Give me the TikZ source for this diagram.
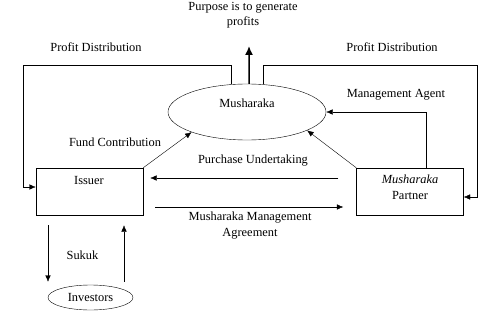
\documentclass[tikz,border=0pt]{standalone}
\usepackage{fontspec}
\setmainfont{Liberation Serif}
\usetikzlibrary{shapes.geometric, arrows.meta}
\begin{document}
\begin{tikzpicture}[x=10pt, y=10pt, >={Latex[length=6.5pt,width=5.5pt]},
  every node/.style={font=\fontsize{12.4}{15.5}\selectfont},
  party/.style={draw, minimum width=107pt, minimum height=47pt},
  oval/.style={draw, ellipse, inner sep=0pt}]
  \useasboundingbox (0,0) rectangle (50,31.4);
  % parties
  \node[oval, minimum width=158pt, minimum height=56pt] (mush) at (24.7,20.2) {};
  \node (mushtxt) at (24.7,21.1) {Musharaka};
  \node[party] (issuer) at (8.95,12.25) {};
  \node (issuertxt) at (8.9,13.4) {Issuer};
  \node[party] (partner) at (41.0,12.25) {};
  \node[align=center] (partnertxt) at (41.0,12.65) {\textit{Musharaka}\\Partner};
  \node[oval, minimum width=85pt, minimum height=25pt] (inv) at (9.05,1.65) {Investors};
  % goal
  \node[align=center] (purpose) at (24.3,29.9) {Purpose is to generate\\profits};
  \coordinate (goal) at (24.9,26.8);
  \draw[-{Latex[length=9pt,width=8pt]}, line width=1.5pt] ([xshift=2pt]mush.north) -- (goal);
  % profit distribution
  \draw[->] (mush.120) |- (2.3,24.9) |- ([yshift=4.5pt]issuer.west);
  \draw[->] (mush.60) |- (47.7,24.9) |- ([yshift=-5.5pt]partner.east);
  \node (pdl) at (9.6,26.7) {Profit Distribution};
  \node (pdr) at (39.2,26.7) {Profit Distribution};
  % contributions
  \draw[->] (issuer.north east) -- (mush.200);
  \node (fund) at (11.5,17.2) {Fund Contribution};
  \draw[->] (partner.north west) -- (mush.-17);
  \draw[->] ([xshift=16pt]partner.north) |- (mush.east);
  \node (agent) at (39.6,21.9) {Management Agent};
  % undertaking and agreement
  \draw[->] ([xshift=-18pt,yshift=13.5pt]partner.west) -- ([xshift=7pt,yshift=13.5pt]issuer.east);
  \node (undert) at (25.3,15.3) {Purchase Undertaking};
  \draw[->] ([xshift=12pt,yshift=-15.5pt]issuer.east) -- ([xshift=-13pt,yshift=-15.5pt]partner.west);
  \node[align=center] (mma) at (25.0,8.85) {Musharaka Management\\Agreement};
  % sukuk
  \draw[->] ([xshift=-41.5pt,yshift=-10pt]issuer.south) -- ([xshift=-41.5pt,yshift=3pt]issuer.south |- inv.north);
  \draw[->] ([xshift=34.5pt,yshift=3pt]issuer.south |- inv.north) -- ([xshift=34.5pt,yshift=-10pt]issuer.south);
  \node (sukuk) at (8.25,5.9) {Sukuk};
\end{tikzpicture}
\end{document}
